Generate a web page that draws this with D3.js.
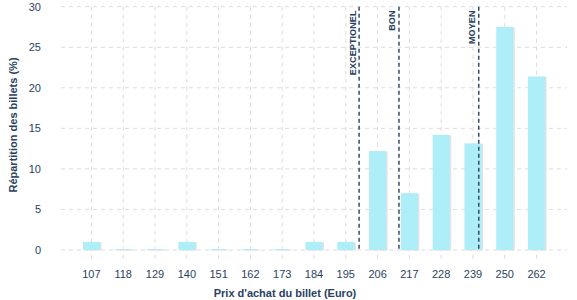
<!DOCTYPE html>
<html lang="fr">
<head>
<meta charset="UTF-8">
<title>Répartition des billets</title>
<script src="https://d3js.org/d3.v7.min.js"></script>
<style>
  body { margin: 0; background: #fff; font-family: "Liberation Sans", Arial, sans-serif; }
  svg text { fill: #2a3f5f; }
</style>
</head>
<body>
<svg width="577" height="300"></svg>
<script>
// prix d'achat (categories) et part des billets (%)
const prix = ['107', '118', '129', '140', '151', '162', '173', '184', '195', '206', '217', '228', '239', '250', '262'];
const parts = [1.0, 0.1, 0.1, 1.0, 0.1, 0.1, 0.1, 1.0, 1.0, 12.2, 7.0, 14.2, 13.15, 27.5, 21.4];
const yTicks = [0, 5, 10, 15, 20, 25, 30];

// seuils de qualite (en euros)
const seuilNoms = ['EXCEPTIONEL', 'BON', 'MOYEN'];
const seuilPrix = [199.6, 213.4, 241];

const svg = d3.select('svg');
const mLeft = 61, mRight = 567, mTop = 6.7, mBottom = 250;

const x = d3.scaleBand()
    .domain(prix)
    .range([mLeft, mRight])
    .paddingInner(0.465)
    .paddingOuter(0.69);

const y = d3.scaleLinear().domain([0, 30]).range([mBottom, mTop]);

// prix -> position continue (interpolation entre les centres de categories)
const xPrix = d3.scaleLinear()
    .domain(prix.map(Number))
    .range(prix.map(p => x(p) + x.bandwidth() / 2));

// grille horizontale
svg.append('g').selectAll('line')
    .data(yTicks).enter().append('line')
    .attr('x1', mLeft).attr('x2', mRight)
    .attr('y1', d => y(d)).attr('y2', d => y(d))
    .attr('stroke', '#dcdcdc').attr('stroke-dasharray', '4,4');

// grille verticale
svg.append('g').selectAll('line')
    .data(prix).enter().append('line')
    .attr('x1', d => x(d) + x.bandwidth() / 2).attr('x2', d => x(d) + x.bandwidth() / 2)
    .attr('y1', y(30)).attr('y2', y(-1.2))
    .attr('stroke', '#dcdcdc').attr('stroke-dasharray', '4,4');

// axes (texte seulement)
svg.append('g').selectAll('text')
    .data(yTicks).enter().append('text')
    .attr('x', 41).attr('y', d => y(d) + 4)
    .attr('text-anchor', 'end')
    .style('font-size', '11px')
    .text(d => d);

svg.append('g').selectAll('text')
    .data(prix).enter().append('text')
    .attr('x', d => x(d) + x.bandwidth() / 2).attr('y', 278)
    .attr('text-anchor', 'middle')
    .style('font-size', '11px')
    .text(d => d);

// barres avec ombre
const data = prix.map((p, i) => ({ p: p, v: parts[i] }));
svg.append('g').selectAll('rect')
    .data(data).enter().append('rect')
    .attr('x', d => x(d.p) + 1.5).attr('y', d => y(d.v) + 0.5)
    .attr('width', x.bandwidth()).attr('height', d => mBottom - y(d.v))
    .attr('fill', '#e2e2e2');
svg.append('g').selectAll('rect')
    .data(data).enter().append('rect')
    .attr('x', d => x(d.p)).attr('y', d => y(d.v))
    .attr('width', x.bandwidth()).attr('height', d => mBottom - y(d.v))
    .attr('fill', '#aeeef8');

// seuils
const seuils = seuilNoms.map((n, i) => ({ n: n, p: seuilPrix[i] }));
const sg = svg.append('g');
sg.selectAll('line')
    .data(seuils).enter().append('line')
    .attr('x1', d => xPrix(d.p)).attr('x2', d => xPrix(d.p))
    .attr('y1', y(30)).attr('y2', y(0))
    .attr('stroke', '#2a3f5f').attr('stroke-width', 1.4)
    .attr('stroke-dasharray', '4,3');
sg.selectAll('text')
    .data(seuils).enter().append('text')
    .attr('transform', d => 'translate(' + (xPrix(d.p) - 3.5) + ',' + 10.5 + ') rotate(-90)')
    .attr('text-anchor', 'end')
    .style('font-size', '9px').style('font-weight', 'bold')
    .style('letter-spacing', '0.1px')
    .text(d => d.n);

// titres
svg.append('text')
    .attr('transform', 'translate(17,' + 125 + ') rotate(-90)')
    .attr('text-anchor', 'middle')
    .style('font-size', '11px').style('font-weight', 'bold')
    .text('Répartition des billets (%)');

svg.append('text')
    .attr('x', 285).attr('y', 297)
    .attr('text-anchor', 'middle')
    .style('font-size', '11px').style('font-weight', 'bold')
    .text("Prix d'achat du billet (Euro)");
</script>
</body>
</html>
